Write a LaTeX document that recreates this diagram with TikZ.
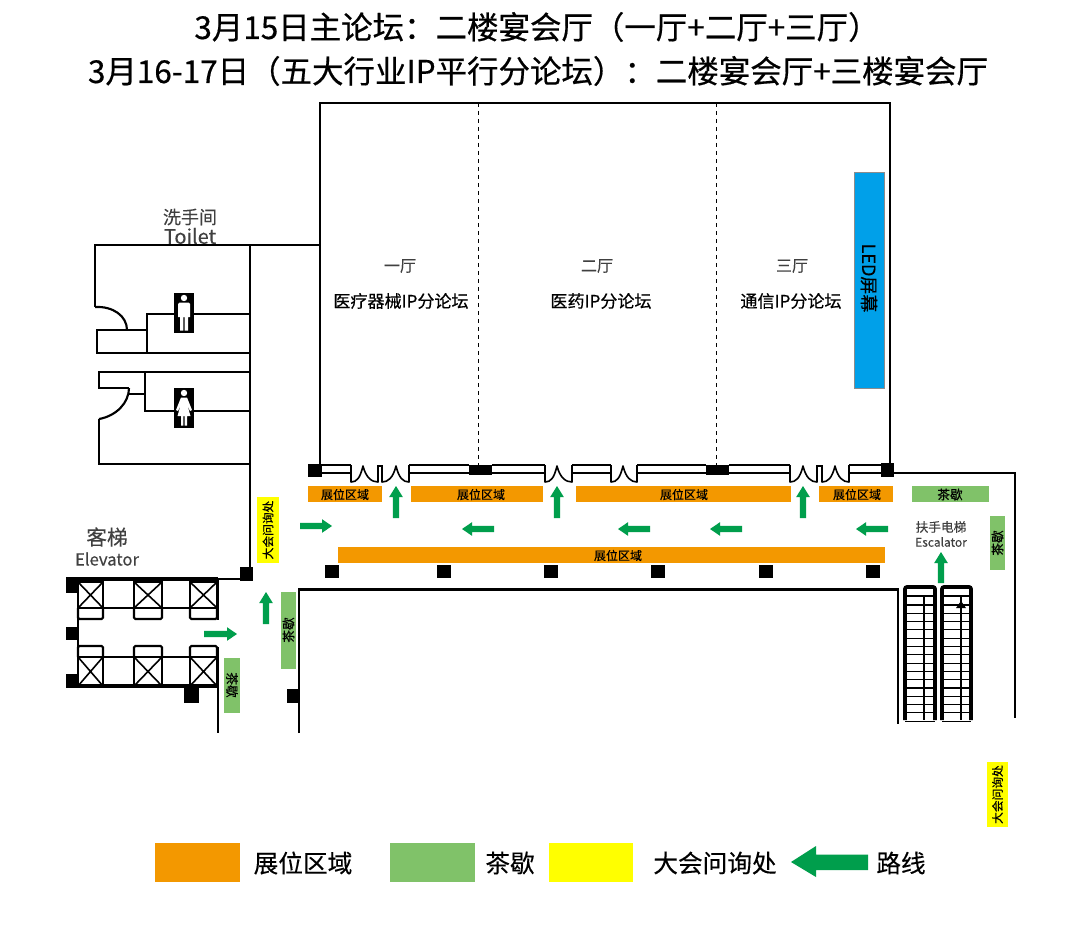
\documentclass[tikz,border=0pt]{standalone}
\usepackage{fontspec}
\setmainfont{Noto Sans CJK SC}
\setsansfont{Noto Sans CJK SC}
\newfontfamily\medf[FakeBold=0.5]{Noto Sans CJK SC}
\newfontfamily\litef[FakeBold=0.25]{Noto Sans CJK SC}
\newcommand{\fs}[1]{\fontsize{#1}{#1}\selectfont}
\definecolor{booth}{HTML}{F39800}
\definecolor{teabreak}{HTML}{80C269}
\definecolor{enquiry}{HTML}{FFFF00}
\definecolor{routec}{HTML}{009E4C}
\definecolor{ledc}{HTML}{00A0E9}
\tikzset{
 wall/.style={draw=black,line width=1.6pt,line join=miter},
 thin wall/.style={draw=black,line width=1.2pt},
 heavy wall/.style={draw=black,line width=2.8pt},
 pillar/.style={fill=black,draw=none},
 route/.style={fill=routec,draw=none},
 lab/.style={inner sep=0pt,text=black,align=center},
 greylab/.style={inner sep=0pt,text=black!75,align=center},
 boothbox/.style={fill=booth,draw=none},
 teabox/.style={fill=teabreak,draw=none},
 enqbox/.style={fill=enquiry,draw=none}
}
\newcommand{\harr}[3]{\pgfmathsetmacro\hb{#2+10*sign(#1-#2)}%
 \fill[route] (#1,#3-3.2) -- (\hb,#3-3.2) -- (\hb,#3-6.8) -- (#2,#3) -- (\hb,#3+6.8) -- (\hb,#3+3.2) -- (#1,#3+3.2) -- cycle;}
\newcommand{\uarr}[3]{\fill[route] (#1-3.2,#2) -- (#1-3.2,#3+11) -- (#1-6.8,#3+11) -- (#1,#3) -- (#1+6.8,#3+11) -- (#1+3.2,#3+11) -- (#1+3.2,#2) -- cycle;}
\newcommand{\door}[3]{\draw[thin wall,line join=round] (#1,465) -- (#1,482) .. controls (#1+6,482) and (#2-3,478) .. (#2,466) .. controls (#2+3,478) and (#3-6,482) .. (#3,482) -- (#3,465);}
\newcommand{\seg}[2]{\draw[thin wall] (#1,465) -- (#2,465) (#1,473) -- (#2,473);}
\newcommand{\car}[4]{\draw[thin wall] (#1,#3) rectangle (#2,#4) (#1,#3) -- (#2,#4) (#1,#4) -- (#2,#3);}
\begin{document}
\begin{tikzpicture}[x=0.75pt,y=-0.75pt]
\useasboundingbox[fill=white] (0,0) rectangle (1080,938);
% titles
\node[lab] (title1) at (537,27) {\medf\fs{23.6}3月15日主论坛：二楼宴会厅（一厅+二厅+三厅）};
\node[lab] (title2) at (538,71) {\medf\fs{23.6}3月16-17日（五大行业IP平行分论坛）：二楼宴会厅+三楼宴会厅};
% hall
\draw[wall] (320,470) -- (320,103) -- (890,103) -- (890,470);
\draw[thin wall,line width=0.7pt,dashed] (478,103) -- (478,466);
\draw[thin wall,line width=0.7pt,dashed] (716,103) -- (716,466);
\node[greylab] at (400,266) {\litef\fs{12}一厅};
\node[greylab] at (597,266) {\litef\fs{12}二厅};
\node[greylab] at (792,266) {\litef\fs{12}三厅};
\node[lab] at (401,301) {\medf\fs{12.8}医疗器械IP分论坛};
\node[lab] at (601,301) {\medf\fs{12.8}医药IP分论坛};
\node[lab] at (791,301) {\medf\fs{12.8}通信IP分论坛};
\draw[fill=ledc,draw=black!45,line width=0.6pt] (854,172) rectangle (884,388);
\node[lab,rotate=-90] at (869,278) {\litef\fs{13.5}LED屏幕};
% toilets
\node[greylab] at (190,217) {\litef\fs{13.5}洗手间};
\node[greylab] at (190,236) {\litef\fs{15}Toilet};
\draw[wall] (95,307) -- (95,245) -- (320,245);
\draw[wall] (250,245) -- (250,567);
\draw[wall] (95,307) .. controls (113,306) and (127,316) .. (127,330);
\draw[wall] (127,330) -- (97,330) -- (97,353) -- (249,353);
\draw[wall] (147,353) -- (147,314) -- (249,314) (127,330) -- (147,330);
\draw[wall] (249,372) -- (99,372) -- (99,388) -- (129,388);
\draw[wall] (129,388) .. controls (129,403) and (116,416) .. (99,419);
\draw[wall] (99,419) -- (99,464) -- (249,464);
\draw[wall] (145,372) -- (145,411) -- (249,411) (129,394) -- (145,394);
\fill[black] (174,293) rectangle (194,333);
\fill[black] (174,388) rectangle (194,428);
% man
\fill[white] (184,298) circle (3.2);
\fill[white,line join=round] (179.5,302.5) -- (188.5,302.5) -- (190,304) -- (190,317) -- (188,317) -- (188,330.5) -- (184.7,330.5) -- (184.7,317) -- (183.3,317) -- (183.3,330.5) -- (180,330.5) -- (180,317) -- (178,317) -- (178,304) -- cycle;
% woman
\fill[white] (184,393) circle (3.2);
\fill[white,line join=round] (181,397.5) -- (187,397.5) -- (192,410) -- (190,411) -- (187.3,405) -- (190.5,416) -- (187,416) -- (187,425.5) -- (184.7,425.5) -- (184.7,416) -- (183.3,416) -- (183.3,425.5) -- (181,425.5) -- (181,416) -- (177.5,416) -- (180.7,405) -- (178,411) -- (176,410) -- cycle;
% door wall
\fill[pillar] (308,464) rectangle (322,477);
\fill[pillar] (469,465) rectangle (492,475);
\fill[pillar] (706,465) rectangle (729,475);
\fill[pillar] (881,463) rectangle (894,477);
\seg{322}{351}\seg{409}{469}\seg{492}{545}\seg{572}{611}\seg{637}{706}\seg{729}{790}\seg{849}{881}
\door{351}{363}{378}
\draw[thin wall] (378,466) -- (382,466);
\door{382}{396}{409}
\door{545}{557}{572}
\door{611}{623}{637}
\door{790}{803}{817}
\draw[thin wall] (817,466) -- (822,466);
\door{822}{835}{849}
\draw[wall] (894,473) -- (1015,473) -- (1015,718);
% booths
\fill[boothbox] (308,486) rectangle (382,502);
\fill[boothbox] (411,486) rectangle (543,502);
\fill[boothbox] (576,486) rectangle (791,502);
\fill[boothbox] (819,486) rectangle (893,502);
\fill[boothbox] (338,547) rectangle (885,563);
\node[lab] at (345,494.5) {\litef\fs{9}展位区域};
\node[lab] at (481,494.5) {\litef\fs{9}展位区域};
\node[lab] at (684,494.5) {\litef\fs{9}展位区域};
\node[lab] at (857,494.5) {\litef\fs{9}展位区域};
\node[lab] at (618,555.5) {\litef\fs{9}展位区域};
% tea breaks
\fill[teabox] (912,486) rectangle (989,502);
\node[lab] at (950,494.5) {\litef\fs{9.5}茶歇};
\fill[teabox] (990,516) rectangle (1005,570);
\node[lab,rotate=90] at (997.5,543) {\litef\fs{9.5}茶歇};
\fill[teabox] (281,592) rectangle (296,669);
\node[lab,rotate=90] at (288.5,630) {\litef\fs{9.5}茶歇};
\fill[teabox] (224,658) rectangle (240,713);
\node[lab,rotate=-90] at (232,685) {\litef\fs{9.5}茶歇};
% enquiry
\fill[enqbox] (257,497) rectangle (279,563);
\node[lab,rotate=90] at (268,530) {\litef\fs{8.8}大会问询处};
\fill[enqbox] (987,762) rectangle (1008,827);
\node[lab,rotate=90] at (997.5,794.5) {\litef\fs{8.8}大会问询处};
% pillars
\foreach \px in {325,437,544,651,759,866} \fill[pillar] (\px,565) rectangle (\px+13.5,578);
\fill[pillar] (240,567) rectangle (253,581);
\fill[pillar] (66,579) rectangle (78,593);
\fill[pillar] (66,627) rectangle (78,640);
\fill[pillar] (66,674) rectangle (78,688);
\fill[pillar] (184,687) rectangle (199,703);
\fill[pillar] (287,689) rectangle (300,703);
% elevators
\node[greylab] at (107,537) {\litef\fs{15.5}客梯};
\node[greylab] at (107,559) {\litef\fs{12.5}Elevator};
\draw[heavy wall] (66,579) -- (218,579);
\draw[wall] (218,579) -- (245,579);
\draw[heavy wall] (66,686) -- (218,686);
\draw[thin wall] (78,582) -- (78,686);
\draw[wall] (218,579) -- (218,620);
\draw[wall] (218,647) -- (218,733);
\draw[wall] (78,608) -- (217,608);
\draw[wall] (78,657) -- (217,657);
\foreach \a/\b in {78/103,134/162,190/217}{
 \car{\a}{\b}{582}{608}
 \car{\a}{\b}{657}{686}
 \draw[wall,rounded corners=1pt] (\a,608) -- (\a,619) -- (\b,619) -- (\b,608);
 \draw[wall,rounded corners=1pt] (\a,657) -- (\a,646) -- (\b,646) -- (\b,657);
}
% corridor
\draw[wall] (299,733) -- (299,589.5) -- (898,589.5) -- (898,724);
% escalators
\node[greylab] at (941,527) {\litef\fs{9.5}扶手电梯};
\node[greylab] at (941,542) {\litef\fs{9}Escalator};
\foreach \a/\b/\c in {905/935/924,942/971/961}{
 \foreach \s in {0,...,14} \draw[thin wall,line width=0.8pt] (\a,605+\s*8.3) -- (\b,605+\s*8.3);
 \draw[heavy wall,rounded corners=1.5pt] (\a,720) -- (\a,587) -- (\b,587) -- (\b,720);
 \draw[wall] (\a,596) -- (\b,596);
 \draw[thin wall,line width=0.8pt] (\c,597) -- (\c,720);
}
\fill[black] (961,601) -- (966,608) -- (956,608) -- cycle;
% routes
\harr{300}{332}{526}
\harr{494}{462}{529}
\harr{650}{618}{529}
\harr{742}{710}{529}
\harr{888}{856}{529}
\harr{204}{237}{634}
\uarr{396}{518}{486}
\uarr{557}{518}{486}
\uarr{803}{518}{486}
\uarr{941}{583}{552}
\uarr{266}{624}{592}
% legend
\fill[boothbox] (155,843) rectangle (240,882);
\node[lab] at (303,863) {\litef\fs{18.5}展位区域};
\fill[teabox] (390,843) rectangle (475,882);
\node[lab] at (510,863) {\litef\fs{18.5}茶歇};
\fill[enqbox] (549,843) rectangle (633,882);
\node[lab] at (715,863) {\litef\fs{18.5}大会问询处};
\fill[route] (868,854.5) -- (816,854.5) -- (816,846) -- (791,862) -- (816,877) -- (816,870) -- (868,870) -- cycle;
\node[lab] at (901,863) {\litef\fs{18.5}路线};
\end{tikzpicture}
\end{document}
